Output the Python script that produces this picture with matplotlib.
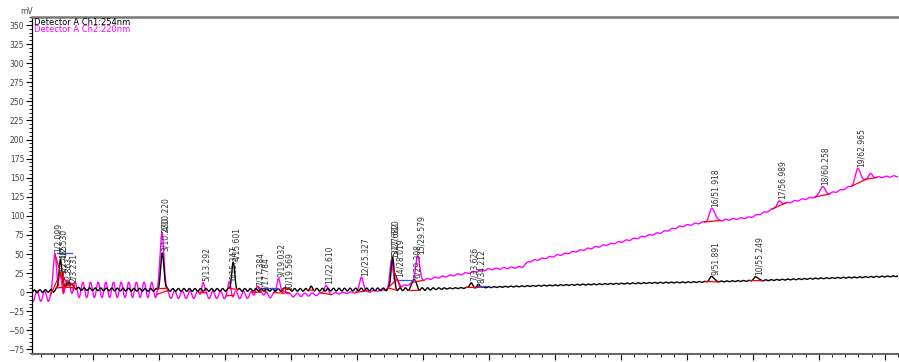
import numpy as np
import matplotlib.pyplot as plt
from matplotlib.ticker import MultipleLocator

# --- Ch1 (254 nm) peaks: retention time [min], height above baseline [mV], sigma [min]
ch1_rt = [2.50, 3.23, 10.23, 15.60, 19.60, 21.50, 27.68, 29.31, 33.63, 34.21, 51.89, 55.25]
ch1_h = [38, 5, 47, 35, 4, 3, 43, 14, 6, 4, 7, 5]
ch1_w = [0.10, 0.12, 0.13, 0.12, 0.08, 0.10, 0.11, 0.14, 0.12, 0.10, 0.16, 0.16]
ch1_lab = ["1/2.530", "2/3.231", "3/10.230", "4/15.601", "", "", "5/27.682", "6/29.308",
           "7/33.626", "8/34.212", "9/51.891", "10/55.249"]

# --- Ch2 (220 nm) peaks
ch2_rt = [2.10, 2.49, 2.86, 3.23, 10.22, 13.29, 15.35, 17.38, 17.78, 19.03, 19.57, 22.61,
          25.33, 27.61, 28.02, 29.58, 51.92, 56.99, 60.26, 62.97, 63.90]
ch2_h = [60, 18, 10, 10, 84, 18, 16, 11, 6, 25, 6, 11, 20, 38, 10, 34, 17, 6, 12, 20, 5]
ch2_w = [0.12, 0.12, 0.12, 0.12, 0.14, 0.10, 0.10, 0.12, 0.10, 0.12, 0.10, 0.14,
         0.14, 0.12, 0.10, 0.15, 0.20, 0.18, 0.18, 0.18, 0.15]
ch2_lab = ["1/2.099", "2/2.485", "3/2.863", "", "4/10.220", "5/13.292", "6/15.347",
           "7/17.384", "8/17.784", "9/19.032", "10/19.569", "11/22.610", "12/25.327",
           "13/27.610", "14/28.019", "15/29.579", "16/51.918", "17/56.989", "18/60.258",
           "19/62.965", ""]

# baseline drift knots (time, mV)
ch1_base_t = [0.35, 2.0, 3.0, 4.0, 10.0, 20.0, 30.0, 36.0, 40.0, 47.0, 50.0, 55.0, 60.0, 66.0]
ch1_base_v = [1, 2, 9, 4, 3, 3, 4, 7, 9, 12, 13, 15, 18, 21]
ch2_base_t = [0.35, 2.0, 3.5, 9.5, 10.5, 20.0, 23.0, 26.0, 27.0, 28.5, 30.0, 31.0, 33.0,
              35.0, 37.5, 38.0, 42.0, 45.0, 48.0, 49.5, 51.4, 54.8, 56.3, 57.4, 58.6,
              60.1, 61.6, 63.0, 63.9, 66.0]
ch2_base_v = [-5, -5, 3, 3, -3, -4, -2, 1, 3, 8, 16, 19, 24, 30, 33, 40, 55, 66, 78, 86,
              92, 98, 107, 116, 121, 126, 133, 143, 150, 152]

# pump ripple amplitude knots
ch1_rip_t = [0.35, 30.0, 32.0, 66.0]
ch1_rip_v = [1.8, 1.8, 0.6, 0.6]
ch2_rip_t = [0.35, 2.0, 3.5, 9.5, 10.5, 16.0, 20.0, 24.0, 66.0]
ch2_rip_v = [7, 7, 10, 10, 5, 5, 2.5, 1.0, 0.8]

# manual baseline (blue) segments: t0, t1, level
blue_t0 = [2.25, 17.5, 28.1, 34.1]
blue_t1 = [3.40, 19.0, 29.4, 34.8]
blue_v = [51, 6, 16, 8]

t = np.linspace(0.35, 66.0, 6000)


def trace(rt, h, w, bt, bv, rt_, rv, period):
    y = np.interp(t, bt, bv) + np.interp(t, rt_, rv) * np.sin(2 * np.pi * t / period)
    for r, hh, ww in zip(rt, h, w):
        y = y + hh * np.exp(-0.5 * ((t - r) / ww) ** 2)
    return y


y1 = trace(ch1_rt, ch1_h, ch1_w, ch1_base_t, ch1_base_v, ch1_rip_t, ch1_rip_v, 0.42)
y2 = trace(ch2_rt, ch2_h, ch2_w, ch2_base_t, ch2_base_v, ch2_rip_t, ch2_rip_v, 0.58)

fig = plt.figure(figsize=(8.99, 3.62), dpi=100)
ax = fig.add_axes([32 / 899, 8 / 362, 866 / 899, 337 / 362])

ax.plot(t, y1, color="black", lw=1.0, zorder=3)
ax.plot(t, y2, color="#ff00ff", lw=1.0, zorder=2)

# integration baselines and drop lines
for rt, w, y in [(ch1_rt, ch1_w, y1), (ch2_rt, ch2_w, y2)]:
    for r, ww in zip(rt, w):
        a, b = r - 3 * ww, r + 3 * ww
        ya, yb = np.interp(a, t, y), np.interp(b, t, y)
        ax.plot([a, b], [ya, yb], color="red", lw=0.9, zorder=4)
        yr = ya + (yb - ya) * 0.5
        if r < 4:
            ax.plot([r + 2 * ww, r + 2 * ww], [yr, np.interp(r + 2 * ww, t, y)],
                    color="red", lw=0.9, zorder=4)

for a, b, v in zip(blue_t0, blue_t1, blue_v):
    ax.plot([a, b], [v, v], color="#3050ff", lw=0.9, zorder=4)

# peak labels
for rt, lab, y in [(ch1_rt, ch1_lab, y1), (ch2_rt, ch2_lab, y2)]:
    for r, s in zip(rt, lab):
        if not s:
            continue
        top = np.interp(r, t, y)
        ax.text(r + 0.25, top + 2, s, rotation=90, fontsize=5.5, color="#333333",
                ha="center", va="bottom", zorder=5)

ax.set_xlim(0.35, 66.0)
ax.set_ylim(-81, 360.5)
ax.xaxis.set_major_locator(MultipleLocator(5))
ax.xaxis.set_minor_locator(MultipleLocator(1))
ax.yaxis.set_major_locator(MultipleLocator(25))
ax.yaxis.set_minor_locator(MultipleLocator(5))
ax.xaxis.set_major_formatter(lambda v, p: f"{v:.1f}")
ax.set_yticks(np.arange(-75, 351, 25))
ax.tick_params(axis="both", which="major", direction="out", length=4, width=0.8,
               labelsize=5.5, labelcolor="#444444", pad=1.5)
ax.tick_params(axis="both", which="minor", direction="out", length=2, width=0.6)

ax.spines["right"].set_visible(False)
ax.spines["top"].set_color("#777777")
ax.spines["top"].set_linewidth(1.8)
ax.spines["left"].set_linewidth(0.9)
ax.spines["bottom"].set_color("#666666")
ax.spines["bottom"].set_linewidth(1.5)

fig.text(20 / 899, 1 - 12 / 362, "mV", fontsize=5.5, color="#444444", va="center")
ax.text(0.002, 0.997, "Detector A Ch1:254nm", transform=ax.transAxes, fontsize=6,
        color="black", va="top", ha="left")
ax.text(0.002, 0.975, "Detector A Ch2:220nm", transform=ax.transAxes, fontsize=6,
        color="#ff00ff", va="top", ha="left")

fig.savefig("out.png", dpi=100)
